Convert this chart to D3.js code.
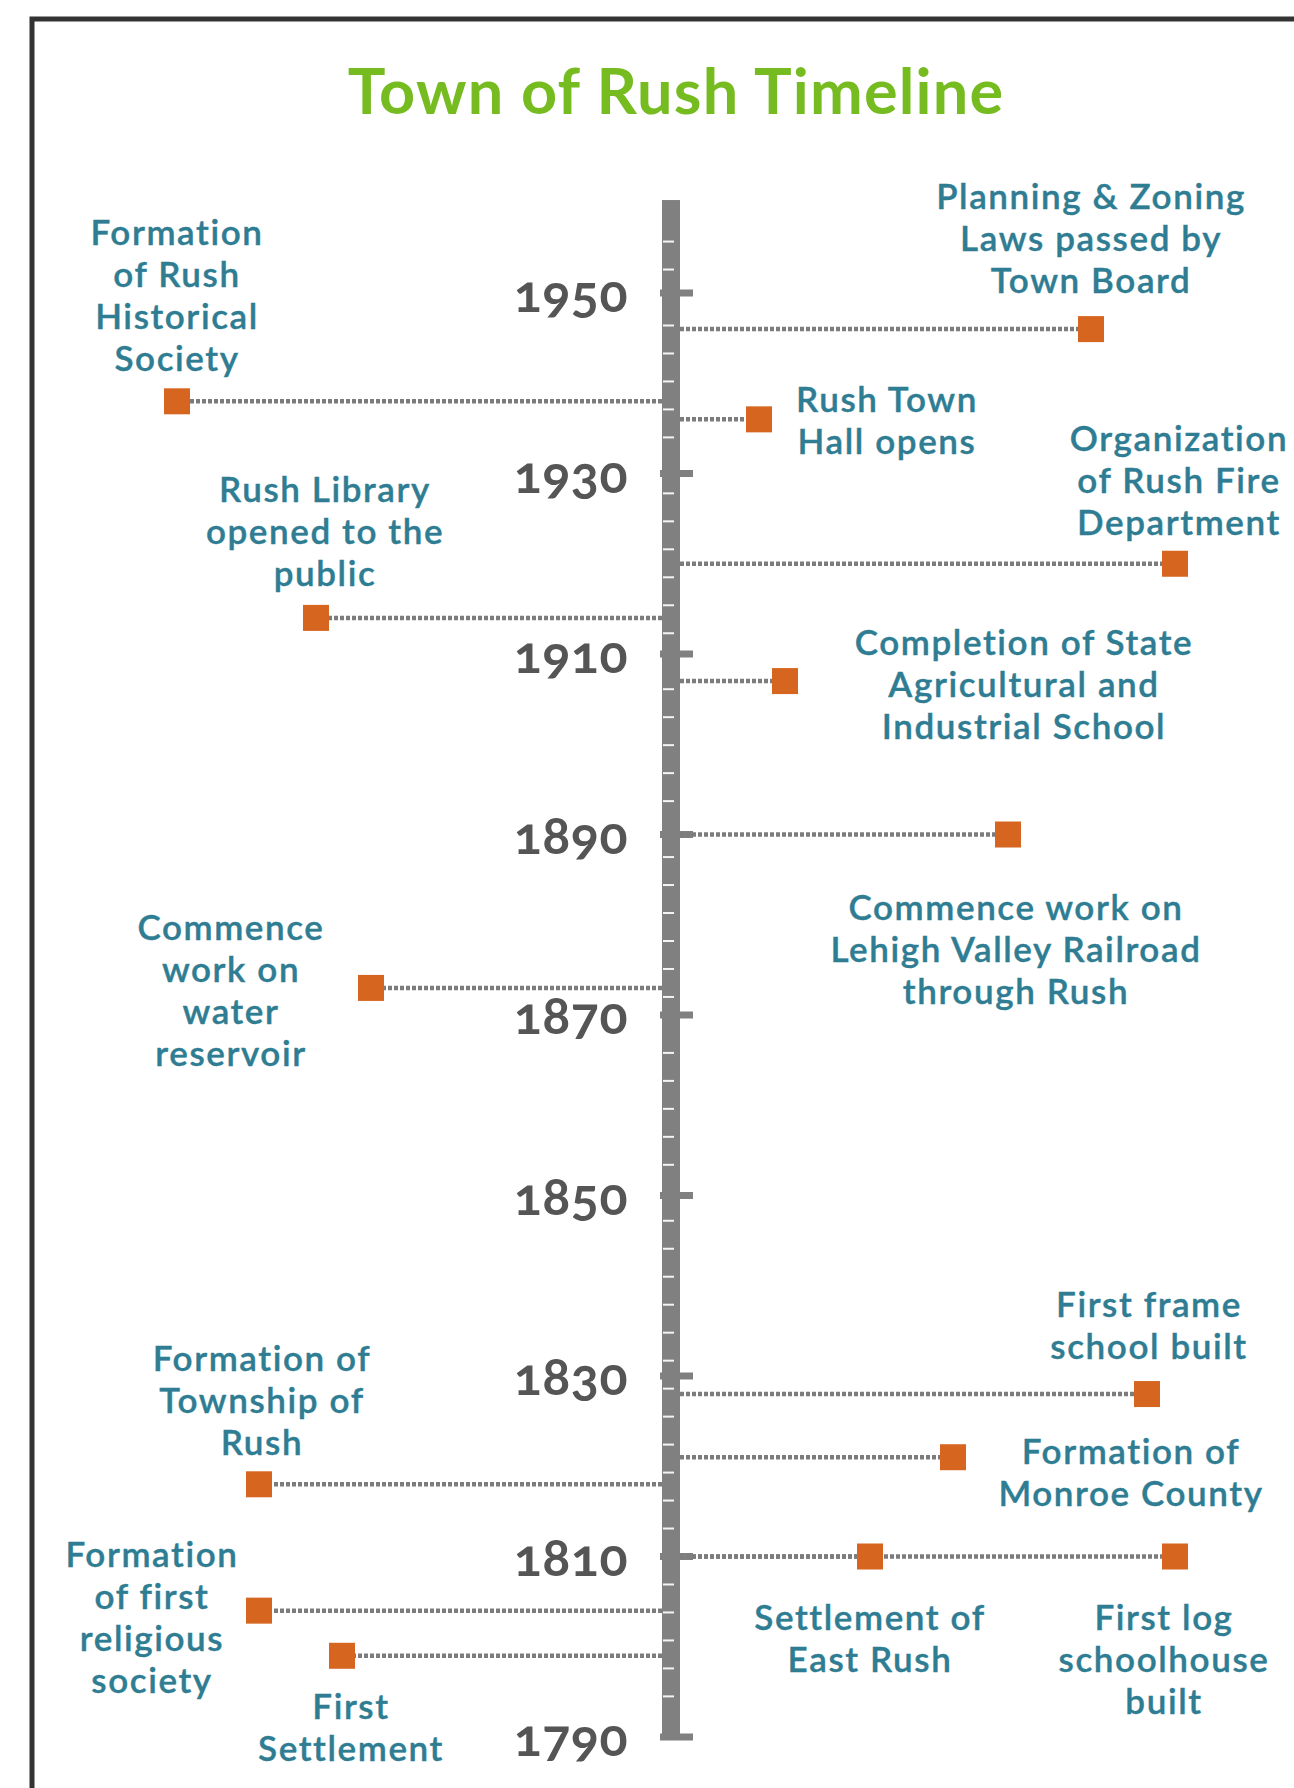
<!DOCTYPE html>
<html>
<head>
<meta charset="utf-8">
<script src="https://cdn.jsdelivr.net/npm/d3@7"></script>
<style>
  body { margin: 0; background: #fff; }
  svg { display: block; }
  .yr { font-family: Lato, sans-serif; font-weight: 700; font-variant-numeric: oldstyle-nums; font-feature-settings: "onum"; }
  .lbl { font-family: Lato, sans-serif; font-weight: 600; }
</style>
</head>
<body>
<svg width="1294" height="1788"></svg>
<script>
const svg = d3.select("svg");

// data
const years = [1946, 1936, 1920, 1907, 1890, 1828, 1821, 1810, 1810, 1938, 1914, 1873, 1818, 1804, 1799];
const sides = ["R", "R", "R", "R", "R", "R", "R", "R", "R", "L", "L", "L", "L", "L", "L"];
const labels = [
  ["Planning & Zoning", "Laws passed by", "Town Board"],
  ["Rush Town", "Hall opens"],
  ["Organization", "of Rush Fire", "Department"],
  ["Completion of State", "Agricultural and", "Industrial School"],
  ["Commence work on", "Lehigh Valley Railroad", "through Rush"],
  ["First frame", "school built"],
  ["Formation of", "Monroe County"],
  ["Settlement of", "East Rush"],
  ["First log", "schoolhouse", "built"],
  ["Formation", "of Rush", "Historical", "Society"],
  ["Rush Library", "opened to the", "public"],
  ["Commence", "work on", "water", "reservoir"],
  ["Formation of", "Township of", "Rush"],
  ["Formation", "of first", "religious", "society"],
  ["First", "Settlement"]
];
const tickYears = [1790, 1810, 1830, 1850, 1870, 1890, 1910, 1930, 1950];

// layout: stem length from axis edge to marker center, label offset from marker
const stem = [411, 79, 495, 105, 328, 467, 273, 190, 495, 485, 346, 291, 403, 403, 320];
const labelDx = [0, 128, 4, 239, 8, 2, 178, 0, -11, 0, 9, -140, 3, -107, 9];
const labelDy = [-132, -20, -125, -38, 73, -89, -5, 61, 61, -169, -128, -60, -126, -56, 51];

const title = "Town of Rush Timeline";

const y = d3.scaleLinear().domain([1790, 1950]).range([1737, 293]);
const axisX = 662, axisW = 18;

// frame
svg.append("path")
  .attr("d", "M32,1788 V19 H1294")
  .attr("fill", "none")
  .attr("stroke", "#333")
  .attr("stroke-width", 5);

svg.append("text")
  .attr("x", 676)
  .attr("y", 114)
  .attr("text-anchor", "middle")
  .attr("font-family", "Lato, sans-serif")
  .attr("font-weight", 700)
  .attr("font-size", 63)
  .attr("letter-spacing", 1.2)
  .attr("fill", "#76bc21")
  .text(title);

// axis bar
svg.append("rect")
  .attr("x", axisX)
  .attr("y", y(1960.3))
  .attr("width", axisW)
  .attr("height", y(1790) - y(1960.3) + 3)
  .attr("fill", "#808080");

// minor ticks
const minor = d3.range(1794.5, 1957, 3.1).filter(v => tickYears.every(t => Math.abs(t - v) > 1.2));
svg.append("g")
  .selectAll("line")
  .data(minor)
  .enter()
  .append("line")
  .attr("x1", axisX + 1)
  .attr("x2", axisX + 12)
  .attr("y1", d => y(d))
  .attr("y2", d => y(d))
  .attr("stroke", "#f4f4f4")
  .attr("stroke-width", 2);

// major ticks
svg.append("g")
  .selectAll("rect")
  .data(tickYears)
  .enter()
  .append("rect")
  .attr("x", axisX - 2)
  .attr("y", d => y(d) - 3.5)
  .attr("width", 33)
  .attr("height", 7)
  .attr("fill", "#808080");

svg.append("g")
  .selectAll("text")
  .data(tickYears)
  .enter()
  .append("text")
  .attr("class", "yr")
  .attr("x", 628)
  .attr("y", d => y(d) + 1)
  .attr("dy", "0.35em")
  .attr("text-anchor", "end")
  .attr("font-size", 52)
  .attr("letter-spacing", 0.5)
  .attr("fill", "#555")
  .text(d => d);

const events = years.map((yr, i) => {
  const mx = sides[i] === "R" ? axisX + axisW + stem[i] : axisX - stem[i];
  return { yr, side: sides[i], lines: labels[i], mx, my: y(yr), i };
});

// dotted stems
svg.append("g")
  .selectAll("line")
  .data(events)
  .enter()
  .append("line")
  .attr("x1", d => d.side === "R" ? axisX + axisW : axisX)
  .attr("x2", d => d.mx)
  .attr("y1", d => d.my)
  .attr("y2", d => d.my)
  .attr("stroke", "#7c7c7c")
  .attr("stroke-width", 4.5)
  .attr("stroke-dasharray", "4 2");

// markers
const ms = 26;
svg.append("g")
  .selectAll("rect")
  .data(events)
  .enter()
  .append("rect")
  .attr("x", d => d.mx - ms / 2)
  .attr("y", d => d.my - ms / 2)
  .attr("width", ms)
  .attr("height", ms)
  .attr("fill", "#d5651f");

// labels
const lineH = 42;
const lbl = svg.append("g")
  .selectAll("text")
  .data(events)
  .enter()
  .append("text")
  .attr("class", "lbl")
  .attr("text-anchor", "middle")
  .attr("font-size", 35)
  .attr("letter-spacing", 1.6)
  .attr("fill", "#2f7d93")
  .attr("stroke", "#2f7d93")
  .attr("stroke-width", 0.4)
  .attr("transform", d => `translate(${d.mx + labelDx[d.i]},${d.my + labelDy[d.i]})`);

lbl.selectAll("tspan")
  .data(d => d.lines)
  .enter()
  .append("tspan")
  .attr("x", 0)
  .attr("y", (d, j) => j * lineH)
  .attr("dy", "0.35em")
  .text(d => d);
</script>
</body>
</html>
